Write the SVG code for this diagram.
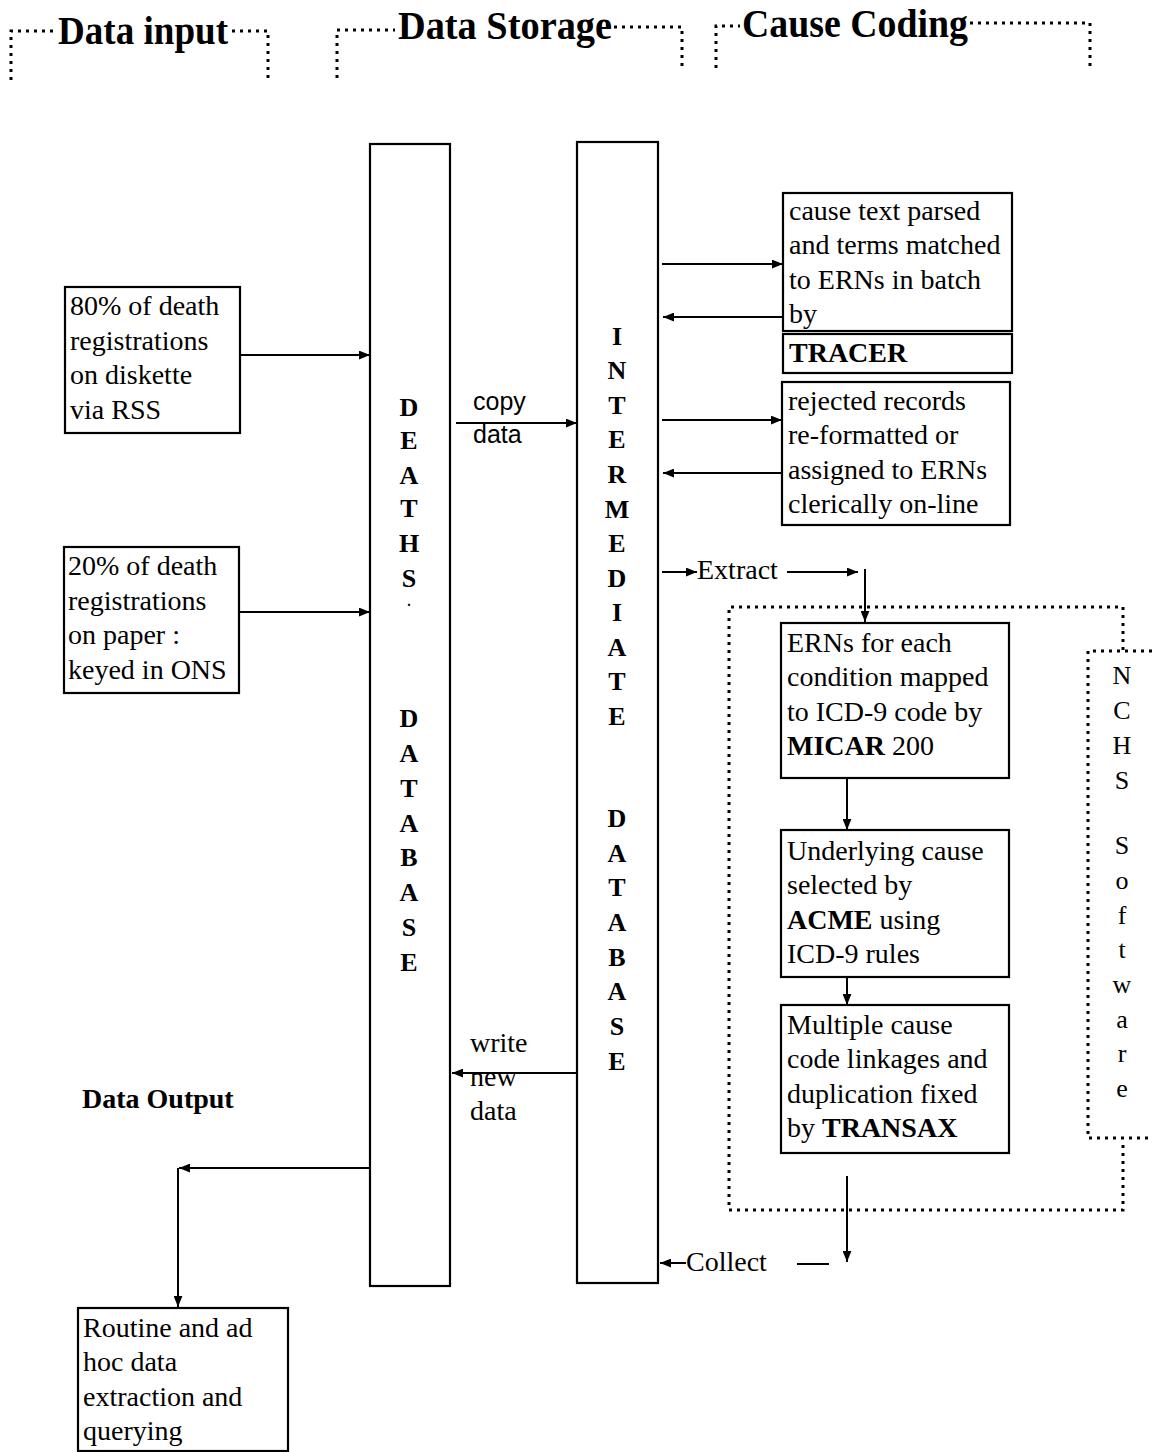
<svg xmlns="http://www.w3.org/2000/svg" width="1152" height="1452" viewBox="0 0 1152 1452">
<style>
.t{font-family:"Liberation Serif","Times New Roman",serif;font-size:28px;fill:#000}
.b{font-weight:bold}
.h{font-family:"Liberation Serif","Times New Roman",serif;font-size:40px;font-weight:bold;fill:#000}
.s{font-family:"Liberation Sans",Arial,sans-serif;font-size:25px;fill:#000}
.v{font-family:"Liberation Serif","Times New Roman",serif;font-size:26px;font-weight:bold;fill:#000;text-anchor:middle}
.n{font-family:"Liberation Serif","Times New Roman",serif;font-size:26px;fill:#000;text-anchor:middle}
.box{fill:#fff;stroke:#000;stroke-width:2.2}
.ln{fill:none;stroke:#000;stroke-width:2}
.dot{fill:none;stroke:#000;stroke-width:3;stroke-dasharray:3 5}
</style>
<defs>
<marker id="ah" viewBox="0 0 10 8" refX="10" refY="4" markerWidth="11" markerHeight="9" markerUnits="userSpaceOnUse" orient="auto"><path d="M0,0 L10,4 L0,8 z" fill="#000"/></marker>
</defs>

<g id="headings">
<path class="dot" d="M11,80 V31 H55 M232,31 H268 V78"/>
<text class="h" x="58" y="44" textLength="170" lengthAdjust="spacingAndGlyphs">Data input</text>
<path class="dot" d="M337,78 V30 H395 M614,27 H682 V70"/>
<text class="h" x="398" y="39" textLength="214" lengthAdjust="spacingAndGlyphs">Data Storage</text>
<path class="dot" d="M716,68 V26 H740 M970,23 H1090 V68"/>
<text class="h" x="742" y="37" textLength="226" lengthAdjust="spacingAndGlyphs">Cause Coding</text>
</g>

<g id="nchs-region">
<path class="dot" d="M1123,650 V607 H729 V1210 H1123 V1140"/>
<path class="dot" d="M1152,651 H1088 V1138 H1152"/>
<g id="nchs-label">
<text class="n" x="1122" y="684">N</text>
<text class="n" x="1122" y="719">C</text>
<text class="n" x="1122" y="754">H</text>
<text class="n" x="1122" y="789">S</text>
<text class="n" x="1122" y="854">S</text>
<text class="n" x="1122" y="889">o</text>
<text class="n" x="1122" y="924">f</text>
<text class="n" x="1122" y="958">t</text>
<text class="n" x="1122" y="993">w</text>
<text class="n" x="1122" y="1028">a</text>
<text class="n" x="1122" y="1062">r</text>
<text class="n" x="1122" y="1097">e</text>
</g>
</g>

<g id="connectors">
<line class="ln" x1="233" y1="355" x2="370" y2="355" marker-end="url(#ah)"/>
<line class="ln" x1="232" y1="612" x2="370" y2="612" marker-end="url(#ah)"/>
<line class="ln" x1="456" y1="423" x2="577" y2="423" marker-end="url(#ah)"/>
<line class="ln" x1="576" y1="1073" x2="452" y2="1073" marker-end="url(#ah)"/>
<line class="ln" x1="662" y1="264" x2="783" y2="264" marker-end="url(#ah)"/>
<line class="ln" x1="783" y1="317" x2="663" y2="317" marker-end="url(#ah)"/>
<line class="ln" x1="662" y1="420" x2="782" y2="420" marker-end="url(#ah)"/>
<line class="ln" x1="782" y1="473" x2="663" y2="473" marker-end="url(#ah)"/>
<line class="ln" x1="662" y1="572" x2="697" y2="572" marker-end="url(#ah)"/>
<line class="ln" x1="787" y1="572" x2="858" y2="572" marker-end="url(#ah)"/>
<line class="ln" x1="865" y1="569" x2="865" y2="622" marker-end="url(#ah)"/>
<line class="ln" x1="847" y1="778" x2="847" y2="830" marker-end="url(#ah)"/>
<line class="ln" x1="847" y1="977" x2="847" y2="1005" marker-end="url(#ah)"/>
<line class="ln" x1="847" y1="1176" x2="847" y2="1262" marker-end="url(#ah)"/>
<line class="ln" x1="686" y1="1263" x2="660" y2="1263" marker-end="url(#ah)"/>
<line class="ln" x1="797" y1="1264" x2="829" y2="1264"/>
<line class="ln" x1="370" y1="1168" x2="179" y2="1168" marker-end="url(#ah)"/>
<line class="ln" x1="178" y1="1168" x2="178" y2="1307" marker-end="url(#ah)"/>
<text class="s" x="473" y="410">copy</text>
<text class="s" x="473" y="443">data</text>
<text class="t" x="470" y="1052">write</text>
<text class="t" x="470" y="1086">new</text>
<text class="t" x="470" y="1120">data</text>
<text class="t" x="697" y="579">Extract</text>
<text class="t" x="686" y="1271">Collect</text>
</g>

<g id="input-diskette">
<rect class="box" x="65" y="287" width="175" height="146"/>
<text class="t" x="70" y="315">80% of death</text>
<text class="t" x="70" y="350">registrations</text>
<text class="t" x="70" y="384">on diskette</text>
<text class="t" x="70" y="419">via RSS</text>
</g>

<g id="input-paper">
<rect class="box" x="64" y="547" width="175" height="146"/>
<text class="t" x="68" y="575">20% of death</text>
<text class="t" x="68" y="610">registrations</text>
<text class="t" x="68" y="644">on paper :</text>
<text class="t" x="68" y="679">keyed in ONS</text>
</g>

<g id="deaths-database">
<rect class="box" x="370" y="144" width="80" height="1142"/>
<text class="v" x="409" y="416">D</text>
<text class="v" x="409" y="449">E</text>
<text class="v" x="409" y="484">A</text>
<text class="v" x="409" y="517">T</text>
<text class="v" x="409" y="552">H</text>
<text class="v" x="409" y="587">S</text>
<text class="v" x="409" y="606" style="font-size:14px">.</text>
<text class="v" x="409" y="727">D</text>
<text class="v" x="409" y="762">A</text>
<text class="v" x="409" y="797">T</text>
<text class="v" x="409" y="832">A</text>
<text class="v" x="409" y="866">B</text>
<text class="v" x="409" y="901">A</text>
<text class="v" x="409" y="936">S</text>
<text class="v" x="409" y="971">E</text>
</g>

<g id="intermediate-database">
<rect class="box" x="577" y="142" width="81" height="1141"/>
<text class="v" x="617" y="345">I</text>
<text class="v" x="617" y="379">N</text>
<text class="v" x="617" y="414">T</text>
<text class="v" x="617" y="448">E</text>
<text class="v" x="617" y="483">R</text>
<text class="v" x="617" y="518">M</text>
<text class="v" x="617" y="552">E</text>
<text class="v" x="617" y="587">D</text>
<text class="v" x="617" y="621">I</text>
<text class="v" x="617" y="656">A</text>
<text class="v" x="617" y="690">T</text>
<text class="v" x="617" y="725">E</text>
<text class="v" x="617" y="827">D</text>
<text class="v" x="617" y="862">A</text>
<text class="v" x="617" y="896">T</text>
<text class="v" x="617" y="931">A</text>
<text class="v" x="617" y="966">B</text>
<text class="v" x="617" y="1000">A</text>
<text class="v" x="617" y="1035">S</text>
<text class="v" x="617" y="1070">E</text>
</g>

<g id="tracer">
<rect class="box" x="783" y="193" width="229" height="138"/>
<rect class="box" x="783" y="334" width="229" height="39"/>
<text class="t" x="789" y="220">cause text parsed</text>
<text class="t" x="789" y="254">and terms matched</text>
<text class="t" x="789" y="289">to ERNs in batch</text>
<text class="t" x="789" y="323">by</text>
<text class="t b" x="789" y="362">TRACER</text>
</g>

<g id="rejected">
<rect class="box" x="782" y="382" width="228" height="143"/>
<text class="t" x="788" y="410">rejected records</text>
<text class="t" x="788" y="444">re-formatted or</text>
<text class="t" x="788" y="479">assigned to ERNs</text>
<text class="t" x="788" y="513">clerically on-line</text>
</g>

<g id="micar">
<rect class="box" x="781" y="623" width="228" height="155"/>
<text class="t" x="787" y="652">ERNs for each</text>
<text class="t" x="787" y="686">condition mapped</text>
<text class="t" x="787" y="721">to ICD-9 code by</text>
<text class="t" x="787" y="755"><tspan class="b">MICAR</tspan> 200</text>
</g>

<g id="acme">
<rect class="box" x="781" y="830" width="228" height="147"/>
<text class="t" x="787" y="860">Underlying cause</text>
<text class="t" x="787" y="894">selected by</text>
<text class="t" x="787" y="929"><tspan class="b">ACME</tspan> using</text>
<text class="t" x="787" y="963">ICD-9 rules</text>
</g>

<g id="transax">
<rect class="box" x="781" y="1005" width="228" height="148"/>
<text class="t" x="787" y="1034">Multiple cause</text>
<text class="t" x="787" y="1068">code linkages and</text>
<text class="t" x="787" y="1103">duplication fixed</text>
<text class="t" x="787" y="1137">by <tspan class="b">TRANSAX</tspan></text>
</g>

<g id="data-output-label">
<text class="t b" x="82" y="1108">Data Output</text>
</g>

<g id="routine">
<rect class="box" x="78" y="1308" width="210" height="143"/>
<text class="t" x="83" y="1337">Routine and ad</text>
<text class="t" x="83" y="1371">hoc data</text>
<text class="t" x="83" y="1406">extraction and</text>
<text class="t" x="83" y="1440">querying</text>
</g>
</svg>
